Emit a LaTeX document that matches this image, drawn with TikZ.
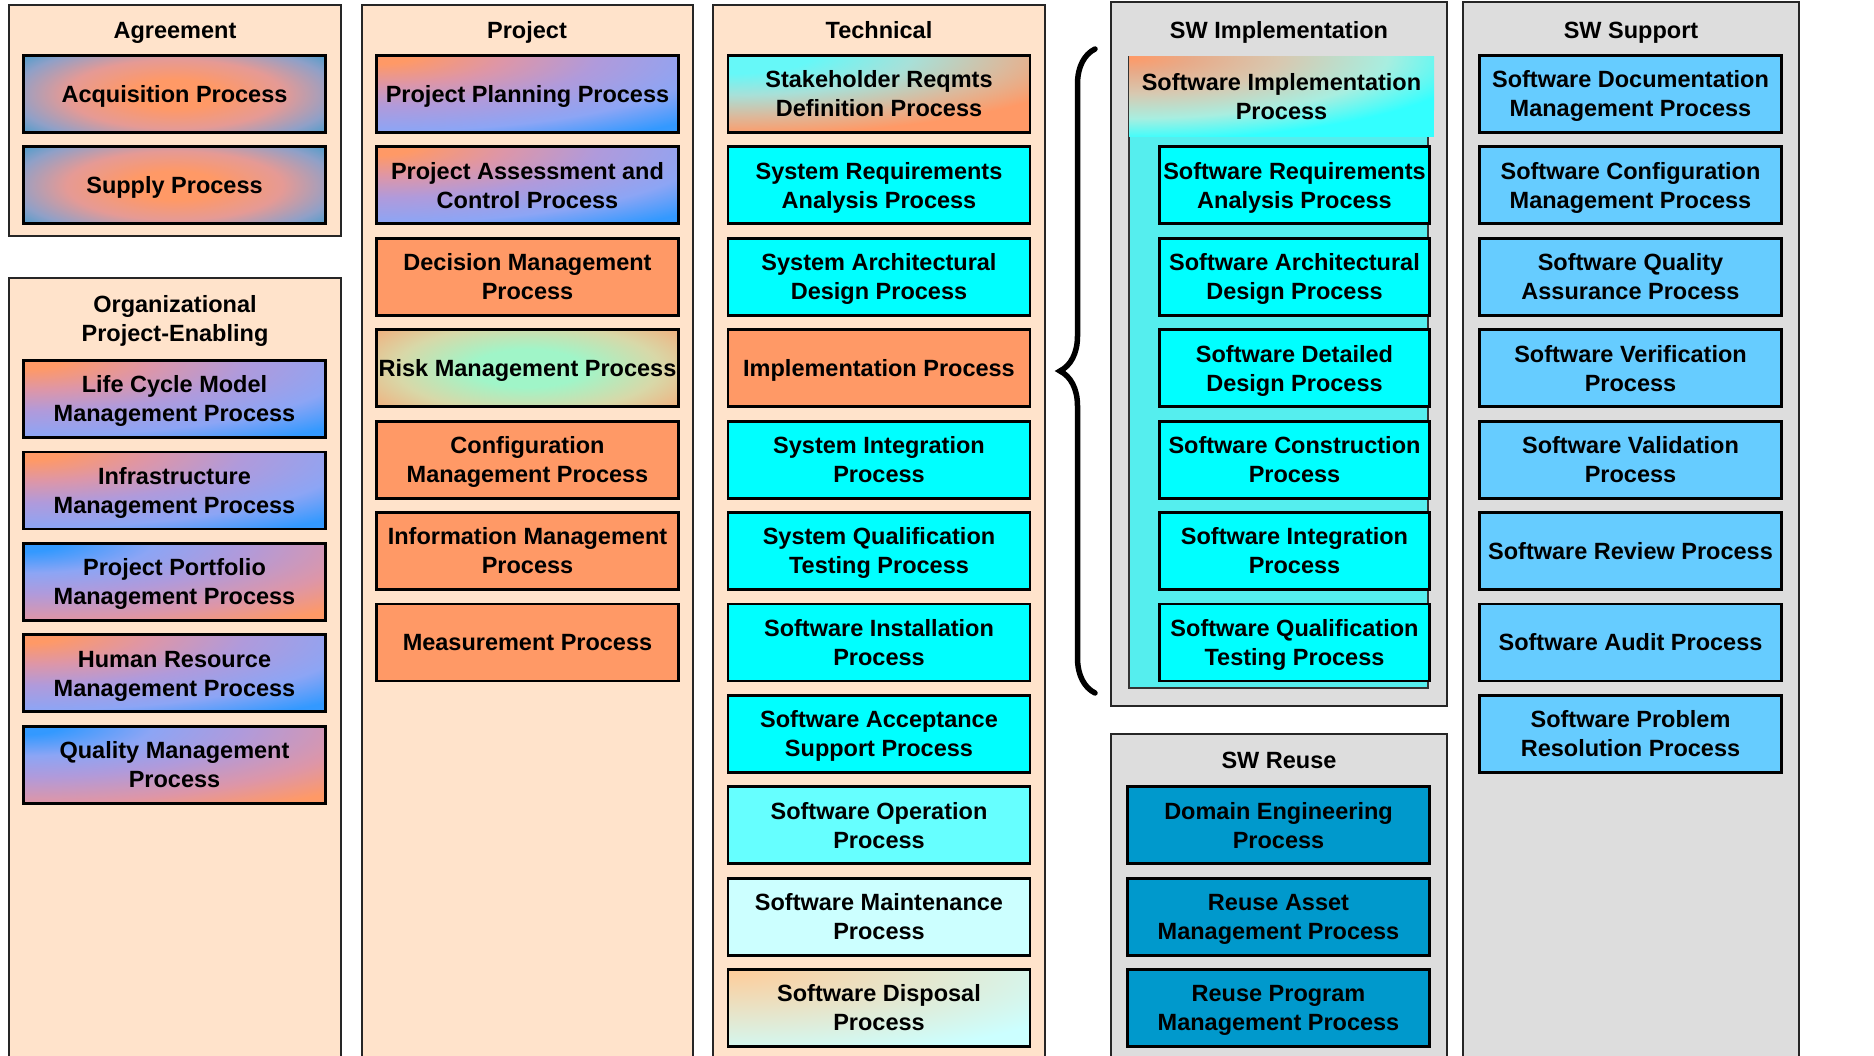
\documentclass[tikz,border=0pt]{standalone}
\usepackage{fontspec}
\setmainfont{Liberation Sans}
\usetikzlibrary{decorations.pathreplacing}
\definecolor{peach}{HTML}{FFE3CB}
\definecolor{panelgray}{HTML}{DDDDDD}
\definecolor{orC}{HTML}{FF9966}
\definecolor{blC}{HTML}{3399FF}
\definecolor{agB}{HTML}{2299CC}
\definecolor{cyC}{HTML}{00FFFF}
\definecolor{cyL}{HTML}{66FFFF}
\definecolor{cyP}{HTML}{CCFFFF}
\definecolor{supB}{HTML}{66CCFF}
\definecolor{reuB}{HTML}{0099CC}
\definecolor{implBG}{HTML}{55EEEE}
\definecolor{riskG}{HTML}{A0F5C8}
\definecolor{riskY}{HTML}{D8D8A8}
\definecolor{dispO}{HTML}{FFCC99}
\definecolor{hdrC}{HTML}{33FFFF}
\definecolor{pinkM}{HTML}{DD96A8}
\definecolor{purpM}{HTML}{B09ADB}
\definecolor{lavM}{HTML}{8CA5F5}
\definecolor{agPink}{HTML}{E59A95}
\definecolor{agLav}{HTML}{8FA0C8}
\definecolor{stkC}{HTML}{66F8F8}
\definecolor{stkM}{HTML}{A8E0D8}
\definecolor{stkT}{HTML}{DDB89A}
\definecolor{hdrA}{HTML}{E8AA88}
\definecolor{hdrB}{HTML}{D8C8B0}
\definecolor{hdrD}{HTML}{A8EEE0}
\pgfdeclareradialshading{obshade}{\pgfpointorigin}{color(0bp)=(orC); color(2bp)=(orC); color(7bp)=(pinkM); color(12bp)=(purpM); color(18bp)=(lavM); color(23bp)=(blC); color(50bp)=(blC)}
\pgfdeclareradialshading{boshade}{\pgfpointorigin}{color(0bp)=(blC); color(2bp)=(blC); color(7bp)=(lavM); color(12bp)=(purpM); color(18bp)=(pinkM); color(23bp)=(orC); color(50bp)=(orC)}
\pgfdeclareradialshading{agrshade}{\pgfpointorigin}{color(0bp)=(orC); color(5bp)=(orC); color(12bp)=(agPink); color(18bp)=(agLav); color(24bp)=(agB); color(50bp)=(agB)}
\pgfdeclareradialshading{riskshade}{\pgfpointorigin}{color(0bp)=(riskG); color(6bp)=(riskG); color(14bp)=(riskY); color(24bp)=(orC); color(50bp)=(orC)}
\pgfdeclareradialshading{stkshade}{\pgfpointorigin}{color(0bp)=(stkC); color(5bp)=(stkC); color(11bp)=(stkM); color(17bp)=(stkT); color(22bp)=(orC); color(50bp)=(orC)}
\pgfdeclareradialshading{hdrshade}{\pgfpointorigin}{color(0bp)=(orC); color(4bp)=(hdrA); color(10bp)=(hdrB); color(17bp)=(hdrD); color(23bp)=(hdrC); color(50bp)=(hdrC)}
\pgfdeclareradialshading{dispshade}{\pgfpointorigin}{color(0bp)=(dispO); color(24bp)=(cyP); color(50bp)=(cyP)}
\newcommand\boxfnt{\fontsize{23.5}{29}\selectfont\bfseries}
\newcommand\tstrut{\rule[-5.2pt]{0pt}{27.2pt}}
\newcommand\tstrutB{\rule[-5.2pt]{0pt}{56.2pt}}
\tikzset{
  panel/.style={draw=black!85, line width=2pt},
  peachpanel/.style={panel, fill=peach},
  graypanel/.style={panel, fill=panelgray},
  ttl/.style={font=\boxfnt, align=center, inner sep=0pt, execute at begin node=\tstrut, execute at end node=\tstrut},
  ml/.style={execute at begin node=\tstrutB},
  pbox/.style={draw=black, line width=2.8pt, minimum width=302pt, minimum height=77pt, inner sep=0pt, align=center, font=\boxfnt, execute at begin node=\tstrut, execute at end node=\tstrut},
  ibox/.style={pbox, minimum width=270pt, fill=cyC, ml},
  orbox/.style={pbox, fill=orC},
  cybox/.style={pbox, fill=cyC, ml},
  supbox/.style={pbox, fill=supB},
  reubox/.style={pbox, fill=reuB, ml},
  nwsh/.style n args={3}{path picture={\shade[shading=#1] (path picture bounding box.north west) ellipse [x radius=#2, y radius=#3];}},
  csh/.style n args={3}{path picture={\shade[shading=#1] (path picture bounding box.center) ellipse [x radius=#2, y radius=#3];}},
  obgrad/.style={pbox, fill=blC, nwsh={obshade}{460pt}{105pt}},
  bograd/.style={pbox, fill=orC, nwsh={boshade}{460pt}{105pt}},
  agrgrad/.style={pbox, fill=agB, csh={agrshade}{225pt}{72pt}},
}
\begin{document}
\begin{tikzpicture}[x=1pt,y=-1pt]
\useasboundingbox (0,0) rectangle (1874,1056);
\clip (0,0) rectangle (1874,1056);
\fill[white] (0,0) rectangle (1874,1056);
% panels
\draw[peachpanel] (9,5) rectangle (341,236);
\draw[peachpanel] (9,278) rectangle (341,1070);
\draw[peachpanel] (362,5) rectangle (693,1070);
\draw[peachpanel] (713,5) rectangle (1045,1070);
\draw[graypanel] (1111,2) rectangle (1447,706);
\draw[graypanel] (1111,734) rectangle (1447,1070);
\draw[graypanel] (1463,2) rectangle (1799,1070);
% titles
\node[ttl] (tAgr) at (175,30) {Agreement};
\node[ttl, ml] (tOrg) at (175,319) {Organizational\\Project-Enabling};
\node[ttl] (tPrj) at (527,30) {Project};
\node[ttl] (tTec) at (879,30) {Technical};
\node[ttl] (tImp) at (1279,30) {SW Implementation};
\node[ttl] (tReu) at (1279,760) {SW Reuse};
\node[ttl] (tSup) at (1631,30) {SW Support};
% Agreement
\node[agrgrad] (acq) at (174.5,94) {Acquisition Process};
\node[agrgrad] (sup) at (174.5,185.4) {Supply Process};
% Organizational
\node[obgrad, ml] (lcm) at (174.5,399) {Life Cycle Model\\Management Process};
\node[obgrad, ml] (infra) at (174.5,490.4) {Infrastructure\\Management Process};
\node[bograd, ml] (ppm) at (174.5,581.8) {Project Portfolio\\Management Process};
\node[obgrad, ml] (hrm) at (174.5,673.2) {Human Resource\\Management Process};
\node[bograd, ml] (qm) at (174.5,764.6) {Quality Management\\Process};
% Project
\node[obgrad] (pp) at (527.5,94) {Project Planning Process};
\node[obgrad, ml] (pac) at (527.5,185.4) {Project Assessment and\\Control Process};
\node[orbox, ml] (dm) at (527.5,276.8) {Decision Management\\Process};
\node[pbox, fill=orC, csh={riskshade}{235pt}{78pt}] (rm) at (527.5,368.2) {Risk Management Process};
\node[orbox, ml] (cm) at (527.5,459.6) {Configuration\\Management Process};
\node[orbox, ml] (im) at (527.5,551) {Information Management\\Process};
\node[orbox] (mp) at (527.5,642.4) {Measurement Process};
% Technical
\node[pbox, ml, fill=orC, nwsh={stkshade}{420pt}{90pt}] (srd) at (879,94) {Stakeholder Reqmts\\Definition Process};
\node[cybox] (sra) at (879,185.4) {System Requirements\\Analysis Process};
\node[cybox] (sad) at (879,276.8) {System Architectural\\Design Process};
\node[orbox] (imp) at (879,368.2) {Implementation Process};
\node[cybox] (sip) at (879,459.6) {System Integration\\Process};
\node[cybox] (sqt) at (879,551) {System Qualification\\Testing Process};
\node[cybox] (swi) at (879,642.4) {Software Installation\\Process};
\node[cybox] (swa) at (879,733.8) {Software Acceptance\\Support Process};
\node[pbox, ml, fill=cyL] (swo) at (879,825.2) {Software Operation\\Process};
\node[pbox, ml, fill=cyP] (swm) at (879,916.6) {Software Maintenance\\Process};
\node[pbox, ml, fill=cyP, nwsh={dispshade}{400pt}{95pt}] (swd) at (879,1008) {Software Disposal\\Process};
% brace
\coordinate (braceTop) at (1095,49);
\coordinate (braceBot) at (1095,693);
\draw[line width=5.5pt, line cap=round, decorate, decoration={brace, amplitude=35pt}] (braceBot) -- (braceTop);
% SW Implementation
\draw[draw=black!80, line width=1.2pt, fill=implBG] (1129,57) rectangle (1428,688);
\node[minimum width=305pt, minimum height=80pt, inner sep=0pt, align=center, font=\boxfnt, fill=hdrC, execute at begin node=\tstrutB, execute at end node=\tstrut, nwsh={hdrshade}{380pt}{90pt}] (swip) at (1281.5,97) {Software Implementation\\Process};
\node[ibox] (swra) at (1294.5,185.4) {Software Requirements\\Analysis Process};
\node[ibox] (swad) at (1294.5,276.8) {Software Architectural\\Design Process};
\node[ibox] (swdd) at (1294.5,368.2) {Software Detailed\\Design Process};
\node[ibox] (swcp) at (1294.5,459.6) {Software Construction\\Process};
\node[ibox] (swip2) at (1294.5,551) {Software Integration\\Process};
\node[ibox] (swqt) at (1294.5,642.4) {Software Qualification\\Testing Process};
% SW Reuse
\node[reubox] (dep) at (1278.5,825.2) {Domain Engineering\\Process};
\node[reubox] (ram) at (1278.5,916.6) {Reuse Asset\\Management Process};
\node[reubox] (rpm) at (1278.5,1008) {Reuse Program\\Management Process};
% SW Support
\node[supbox, ml] (sdm) at (1630.5,94) {Software Documentation\\Management Process};
\node[supbox, ml] (scm) at (1630.5,185.4) {Software Configuration\\Management Process};
\node[supbox, ml] (sqa) at (1630.5,276.8) {Software Quality\\Assurance Process};
\node[supbox, ml] (svp) at (1630.5,368.2) {Software Verification\\Process};
\node[supbox, ml] (svl) at (1630.5,459.6) {Software Validation\\Process};
\node[supbox] (srp) at (1630.5,551) {Software Review Process};
\node[supbox] (sap) at (1630.5,642.4) {Software Audit Process};
\node[supbox, ml] (spr) at (1630.5,733.8) {Software Problem\\Resolution Process};
\end{tikzpicture}
\end{document}
